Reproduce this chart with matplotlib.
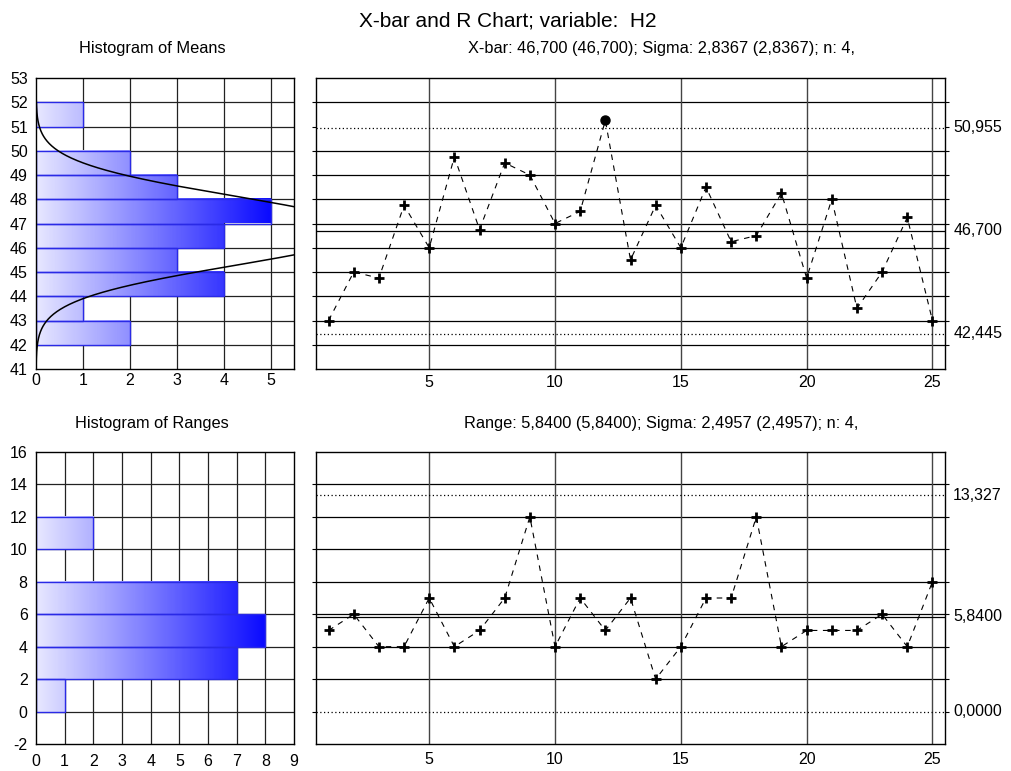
import numpy as np
import matplotlib
matplotlib.use("Agg")
import matplotlib.pyplot as plt
from matplotlib.colors import LinearSegmentedColormap
from matplotlib.patches import Rectangle
import matplotlib.transforms as mtransforms

plt.rcParams['font.family'] = ['Liberation Sans', 'DejaVu Sans']
plt.rcParams['axes.unicode_minus'] = False

# ---------------- data ----------------
samples = list(range(1, 26))
xbar = [43.0, 45.0, 44.75, 47.75, 46.0, 49.75, 46.75, 49.5, 49.0, 47.0,
        47.5, 51.25, 45.5, 47.75, 46.0, 48.5, 46.25, 46.5, 48.25, 44.75,
        48.0, 43.5, 45.0, 47.25, 43.0]
ranges = [5, 6, 4, 4, 7, 4, 5, 7, 12, 4, 7, 5, 7, 2, 4, 7, 7, 12, 4, 5,
          5, 5, 6, 4, 8]

mean_bins = [42, 43, 44, 45, 46, 47, 48, 49, 50, 51, 52]
mean_counts = [2, 1, 4, 3, 4, 5, 3, 2, 0, 1]
range_bins = [0, 2, 4, 6, 8, 10, 12]
range_counts = [1, 7, 8, 7, 0, 2]

xbar_center = 46.700
xbar_ucl = 50.955
xbar_lcl = 42.445
xbar_sigma = 2.8367
n_size = 4
r_center = 5.8400
r_ucl = 13.327
r_lcl = 0.0

main_title = "X-bar and R Chart; variable:  H2"
xbar_title = "X-bar: 46,700 (46,700); Sigma: 2,8367 (2,8367); n: 4,"
r_title = "Range: 5,8400 (5,8400); Sigma: 2,4957 (2,4957); n: 4,"

# ---------------- figure ----------------
W, H = 1011, 771
fig = plt.figure(figsize=(W / 100, H / 100), dpi=100)

def pix_axes(x0, y0, x1, y1):
    return fig.add_axes([x0 / W, 1 - y1 / H, (x1 - x0) / W, (y1 - y0) / H])

ax_hm = pix_axes(36, 78, 294, 369)
ax_xb = pix_axes(316, 78, 945, 369)
ax_hr = pix_axes(36, 452, 294, 744)
ax_rc = pix_axes(316, 452, 945, 744)

FS = 11.5
SUB = 11.8
cmap = LinearSegmentedColormap.from_list("grad", ["#e8e8ff", "#0a0aff"])
edge_blue = "#2a2ae6"
grid_col = "#222222"

def style_axes(ax):
    for s in ax.spines.values():
        s.set_color("black")
        s.set_linewidth(1.0)
        s.set_zorder(6)

def gradient_hist(ax, edges, counts, xmax_count):
    for i, c in enumerate(counts):
        if c <= 0:
            continue
        y0, y1 = edges[i], edges[i + 1]
        grad = np.linspace(0, c / xmax_count, 256).reshape(1, -1)
        ax.imshow(grad, extent=[0, c, y0, y1], cmap=cmap, vmin=0, vmax=1,
                  aspect='auto', interpolation='bilinear', origin='lower', zorder=2)
        ax.add_patch(Rectangle((0, y0), c, y1 - y0, fill=False,
                               edgecolor=edge_blue, lw=1.0, zorder=3))

# ---- Histogram of means ----
ax = ax_hm
style_axes(ax)
for yv in range(42, 53):
    ax.axhline(yv, color=grid_col, lw=0.9, zorder=1)
for xv in range(1, 6):
    ax.axvline(xv, color=grid_col, lw=0.9, zorder=1)
gradient_hist(ax, mean_bins, mean_counts, max(mean_counts))
sig_m = xbar_sigma / np.sqrt(n_size)
yy = np.linspace(41, 53, 600)
pdf = len(xbar) * 1.0 / (sig_m * np.sqrt(2 * np.pi)) * np.exp(-0.5 * ((yy - xbar_center) / sig_m) ** 2)
ax.plot(pdf, yy, color="black", lw=1.1, zorder=4)
ax.set_xlim(0, 5.5)
ax.set_ylim(41, 53)
ax.set_xticks(range(0, 6))
ax.set_yticks(range(41, 54))
ax.tick_params(axis='x', length=0, labelsize=FS, pad=3)
ax.tick_params(axis='y', length=0, labelsize=FS, pad=6)

# ---- Histogram of ranges ----
ax = ax_hr
style_axes(ax)
for yv in range(0, 16, 2):
    ax.axhline(yv, color=grid_col, lw=0.9, zorder=1)
for xv in range(1, 9):
    ax.axvline(xv, color=grid_col, lw=0.9, zorder=1)
gradient_hist(ax, range_bins, range_counts, max(range_counts))
ax.set_xlim(0, 9)
ax.set_ylim(-2, 16)
ax.set_xticks(range(0, 10))
ax.set_yticks(range(-2, 17, 2))
ax.tick_params(axis='x', length=0, labelsize=FS, pad=7)
ax.tick_params(axis='y', length=0, labelsize=FS, pad=6)

# ---- control chart helper ----
def control_chart(ax, vals, center, ucl, lcl, ylo, yhi, ystep, labels, xpad):
    style_axes(ax)
    for yv in np.arange(ylo + ystep, yhi, ystep):
        if min(abs(yv - ucl), abs(yv - lcl)) < 0.1:
            continue
        ax.axhline(yv, color="black", lw=0.9, zorder=1)
    for xv in [5, 10, 15, 20, 25]:
        ax.axvline(xv, color="#444444", lw=1.0, zorder=1)
    ax.axhline(center, color="black", lw=0.9, zorder=1)
    ax.axhline(ucl, color="black", lw=0.9, ls=(0, (1, 2)), zorder=1)
    ax.axhline(lcl, color="black", lw=0.9, ls=(0, (1, 2)), zorder=1)
    xs = np.array(samples)
    v = np.array(vals)
    ax.plot(xs, v, color="black", lw=0.8, ls=(0, (5, 5)), zorder=3)
    inside = (v <= ucl) & (v >= lcl)
    ax.plot(xs[inside], v[inside], ls="none", marker="+", ms=7, mew=2,
            color="black", zorder=4)
    ax.plot(xs[~inside], v[~inside], ls="none", marker="o", ms=6.5,
            color="black", zorder=4)
    ax.set_xlim(0.5, 25.5)
    ax.set_ylim(ylo, yhi)
    ax.set_xticks([5, 10, 15, 20, 25])
    ax.set_yticks(np.arange(ylo + ystep, yhi, ystep))
    ax.tick_params(axis='x', length=0, labelsize=FS, pad=xpad)
    ax.tick_params(axis='y', which='both', left=True, right=True, labelleft=False,
                   direction='out', length=3, width=0.8)
    trans = mtransforms.blended_transform_factory(ax.transAxes, ax.transData)
    for val, lab in zip([ucl, center, lcl], labels):
        ax.text(1.013, val, lab, transform=trans, ha="left", va="center", fontsize=FS)

control_chart(ax_xb, xbar, xbar_center, xbar_ucl, xbar_lcl, 41, 53, 1,
              ["50,955", "46,700", "42,445"], 4)
control_chart(ax_rc, ranges, r_center, r_ucl, r_lcl, -2, 16, 2,
              ["13,327", "5,8400", "0,0000"], 6)

fig.text(508 / W, 1 - 21 / H, main_title, ha="center", va="center", fontsize=15)
fig.text(152 / W, 1 - 49 / H, "Histogram of Means", ha="center", va="center", fontsize=SUB)
fig.text(661 / W, 1 - 49 / H, xbar_title, ha="center", va="center", fontsize=SUB)
fig.text(152 / W, 1 - 423 / H, "Histogram of Ranges", ha="center", va="center", fontsize=SUB)
fig.text(661 / W, 1 - 423 / H, r_title, ha="center", va="center", fontsize=SUB)

fig.savefig("out.png", dpi=100)
